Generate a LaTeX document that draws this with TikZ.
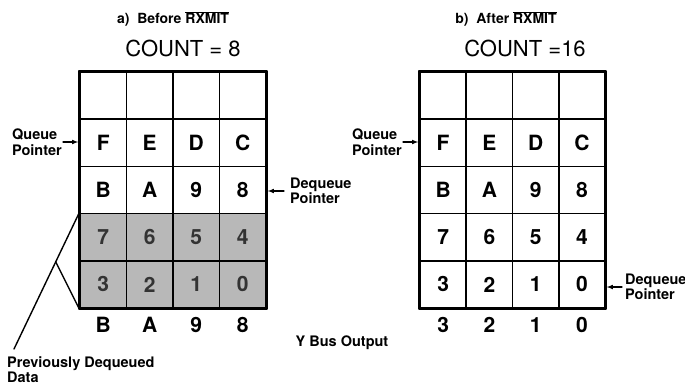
\documentclass[tikz,border=0pt]{standalone}
\usepackage{fontspec}
\setmainfont{TeX Gyre Heros}
\usetikzlibrary{calc}
\begin{document}
\begin{tikzpicture}[x=1pt,y=-1pt,line cap=round,line join=round,>=latex,
  cell/.style={draw,line width=1.6pt,minimum width=46.5pt,minimum height=47.2pt,
    inner sep=0pt,font=\fontsize{21}{21}\selectfont\bfseries},
  cellb/.style={cell,minimum width=46.25pt},
  used/.style={fill=black!28,text=black!80},
  outfont/.style={inner sep=0pt,font=\fontsize{21}{21}\selectfont\bfseries},
  lbl/.style={inner sep=0pt,align=left,font=\fontsize{14.5}{15.5}\selectfont\bfseries},
  title/.style={inner sep=0pt,font=\fontsize{14}{14}\selectfont\bfseries},
  countlbl/.style={inner sep=0pt,font=\fontsize{22}{22}\selectfont},
  ptr/.style={->,line width=1.1pt,shorten >=1pt}]
  \useasboundingbox (0,0) rectangle (685,386);

  % titles
  \node[title] (ta) at (173,19) {a)\ \ Before $\overline{\hbox{RXMIT}}$};
  \node[title] (tb) at (506,19) {b)\ \ After $\overline{\hbox{RXMIT}}$};
  \node[countlbl] (ca) at (183,48) {COUNT = 8};
  \node[countlbl] (cb) at (525,48) {COUNT =16};

  % a) queue before
  \foreach \c in {0,...,3}
    \node[cell] (a-0-\c) at (103.25+46.5*\c,95.6) {};
  \foreach \row [count=\r] in {{F,E,D,C},{B,A,9,8}}
    \foreach \t [count=\c from 0] in \row
      \node[cell] (a-\r-\c) at (103.25+46.5*\c,95.6+47.2*\r) {\t};
  \foreach \row [count=\r from 3] in {{7,6,5,4},{3,2,1,0}}
    \foreach \t [count=\c from 0] in \row
      \node[cell,used] (a-\r-\c) at (103.25+46.5*\c,95.6+47.2*\r) {\t};
  \draw[line width=2.2pt] (a-0-0.north west) rectangle (a-4-3.south east);
  \foreach \t [count=\c from 0] in {B,A,9,8}
    \node[outfont] (ya-\c) at (103.25+46.5*\c,325) {\t};

  % b) queue after
  \foreach \c in {0,...,3}
    \node[cellb] (b-0-\c) at (443.1+46.25*\c,95.6) {};
  \foreach \row [count=\r] in {{F,E,D,C},{B,A,9,8},{7,6,5,4},{3,2,1,0}}
    \foreach \t [count=\c from 0] in \row
      \node[cellb] (b-\r-\c) at (443.1+46.25*\c,95.6+47.2*\r) {\t};
  \draw[line width=2.2pt] (b-0-0.north west) rectangle (b-4-3.south east);
  \foreach \t [count=\c from 0] in {3,2,1,0}
    \node[outfont] (yb-\c) at (443.1+46.25*\c,325) {\t};

  % pointers
  \node[lbl,anchor=east] (qa) at (62,142) {Queue\\Pointer};
  \draw[ptr] ([xshift=1pt]qa.east) -- (qa.east -| a-1-0.west);
  \node[lbl,anchor=west] (da) at (290,191) {Dequeue\\Pointer};
  \draw[ptr] ([xshift=-6pt]da.west) -- (da.west -| a-2-3.east);
  \node[lbl,anchor=east] (qb) at (402,142) {Queue\\Pointer};
  \draw[ptr] ([xshift=1pt]qb.east) -- (qb.east -| b-1-0.west);
  \node[lbl,anchor=west] (db) at (625,287) {Dequeue\\Pointer};
  \draw[ptr] ([xshift=-3pt]db.west) -- (db.west -| b-4-3.east);

  \node[lbl] (ybus) at (342,343) {Y Bus Output};

  % previously dequeued data
  \node[lbl,anchor=north west] (prev) at (7,356) {Previously Dequeued\\Data};
  \coordinate (tail) at (14,349);
  \coordinate (brk) at ($(a-3-0.north west)!0.36!(tail)$);
  \draw[line width=1.4pt] (a-3-0.north west) -- (tail);
  \draw[line width=1.4pt] (brk) -- (a-4-0.south west);
\end{tikzpicture}
\end{document}
